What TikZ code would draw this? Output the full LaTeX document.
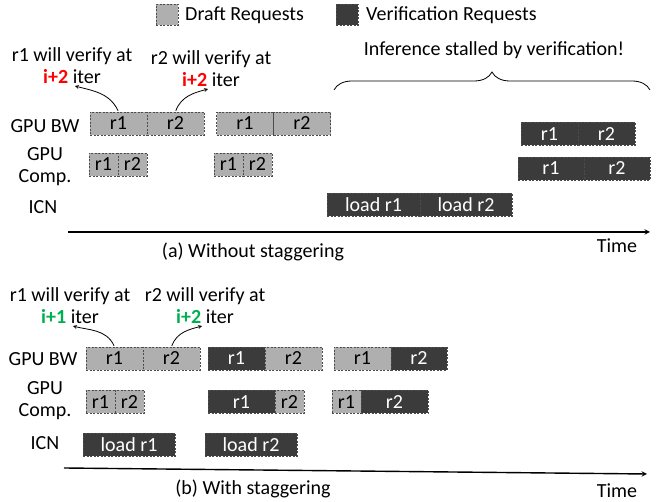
\documentclass[tikz,border=0pt]{standalone}
\usepackage{fontspec}
\setmainfont{Carlito}
\usetikzlibrary{decorations.pathreplacing}

\definecolor{draftgray}{HTML}{AFAFAF}
\definecolor{verifgray}{HTML}{3B3B3B}
\definecolor{iterred}{HTML}{FF0000}
\definecolor{itergreen}{HTML}{00B050}

\begin{document}
\begin{tikzpicture}[
        x=1pt, y=-1pt,
        txt/.style={font=\fontsize{20}{22}\selectfont, align=center, inner sep=1pt},
        draft/.style={rectangle, draw=black!70, dash pattern=on 2pt off 1.5pt, line width=0.7pt,
                      fill=draftgray, minimum height=23pt, inner sep=0pt, font=\fontsize{20}{22}\selectfont},
        verif/.style={draft, fill=verifgray, text=white},
        note/.style={->, line width=0.8pt, shorten <=1pt, shorten >=3pt},
        >=stealth
    ]
    \useasboundingbox (0,0) rectangle (657,502);

    % Legend
    \node[draft, minimum width=22, minimum height=21] (leg_d) at (167,15) {};
    \node[txt, anchor=west] (leg_dt) at (184,15) {Draft Requests};
    \node[verif, minimum width=22, minimum height=21] (leg_v) at (347,15) {};
    \node[txt, anchor=west] (leg_vt) at (365,15) {Verification Requests};

    % Top graph: without staggering
    \node[txt] (t_bwl) at (45,126) {GPU BW};
    \node[txt] (t_cpl) at (45,167) {GPU\\Comp.};
    \node[txt] (t_icl) at (43,207) {ICN};

    \node[draft, minimum width=57] (t_bw1) at (118.5,123.5) {r1};
    \node[draft, minimum width=57] (t_bw2) at (175.5,123.5) {r2};
    \node[draft, minimum width=57] (t_bw3) at (245,123.5) {r1};
    \node[draft, minimum width=57] (t_bw4) at (302,123.5) {r2};
    \node[verif, minimum width=57] (t_bw5) at (549.5,134) {r1};
    \node[verif, minimum width=57] (t_bw6) at (606.5,134) {r2};

    \node[draft, minimum width=29] (t_cp1) at (103.5,164.5) {r1};
    \node[draft, minimum width=29] (t_cp2) at (132.5,164.5) {r2};
    \node[draft, minimum width=29] (t_cp3) at (228.5,164.5) {r1};
    \node[draft, minimum width=29] (t_cp4) at (257.5,164.5) {r2};
    \node[verif, minimum width=66] (t_cp5) at (551,168.5) {r1};
    \node[verif, minimum width=66] (t_cp6) at (617,168.5) {r2};

    \node[verif, minimum width=93] (t_ic1) at (373.5,205) {load r1};
    \node[verif, minimum width=92] (t_ic2) at (466,205) {load r2};

    \node[txt] (t_note1) at (72,66) {r1 will verify at\\\textcolor{iterred}{\textbf{i+2}} iter};
    \node[txt] (t_note2) at (211,69) {r2 will verify at\\\textcolor{iterred}{\textbf{i+2}} iter};
    \draw[note] (t_bw1.north) to[out=115, in=-15] (t_note1.south);
    \draw[note] (t_bw2.north) to[out=70, in=195] (t_note2.south);

    \coordinate (t_brl) at (334,90);
    \coordinate (t_brr) at (650,90);
    \draw[line width=0.8pt, decorate, decoration={brace, amplitude=18pt}] (t_brl) -- (t_brr);
    \node[txt] (t_stall) at (494,50) {Inference stalled by verification!};

    \coordinate (t_ax0) at (68,232);
    \coordinate (t_ax1) at (650,232);
    \draw[->, line width=1.4pt] (t_ax0) -- (t_ax1);
    \node[txt] (t_time) at (617,246) {Time};
    \node[txt] (t_cap) at (253,252) {(a) Without staggering};

    % Bottom graph: with staggering
    \node[txt] (b_bwl) at (43,359) {GPU BW};
    \node[txt] (b_cpl) at (45,401) {GPU\\Comp.};
    \node[txt] (b_icl) at (45,443) {ICN};

    \node[draft, minimum width=57] (b_bw1) at (114.5,358.5) {r1};
    \node[draft, minimum width=57] (b_bw2) at (171.5,358.5) {r2};
    \node[verif, minimum width=57] (b_bw3) at (236.5,358.5) {r1};
    \node[draft, minimum width=57] (b_bw4) at (293.5,358.5) {r2};
    \node[draft, minimum width=57] (b_bw5) at (362.5,358.5) {r1};
    \node[verif, minimum width=56] (b_bw6) at (419,358.5) {r2};

    \node[draft, minimum width=29] (b_cp1) at (100.5,402) {r1};
    \node[draft, minimum width=29] (b_cp2) at (129.5,402) {r2};
    \node[verif, minimum width=67] (b_cp3) at (241.5,402) {r1};
    \node[draft, minimum width=29] (b_cp4) at (289.5,402) {r2};
    \node[draft, minimum width=29] (b_cp5) at (346.5,402) {r1};
    \node[verif, minimum width=67] (b_cp6) at (394.5,402) {r2};

    \node[verif, minimum width=92] (b_ic1) at (129,444.5) {load r1};
    \node[verif, minimum width=92] (b_ic2) at (251,444.5) {load r2};

    \node[txt] (b_note1) at (70,306) {r1 will verify at\\\textcolor{itergreen}{\textbf{i+1}} iter};
    \node[txt] (b_note2) at (205,306) {r2 will verify at\\\textcolor{itergreen}{\textbf{i+2}} iter};
    \draw[note] (b_bw1.north) to[out=115, in=-15] (b_note1.south);
    \draw[note] (b_bw2.north) to[out=70, in=195] (b_note2.south);

    \coordinate (b_ax0) at (64,468);
    \coordinate (b_ax1) at (647,474);
    \draw[->, line width=1.4pt] (b_ax0) -- (b_ax1);
    \node[txt] (b_time) at (617,491) {Time};
    \node[txt] (b_cap) at (253,489) {(b) With staggering};

\end{tikzpicture}
\end{document}
